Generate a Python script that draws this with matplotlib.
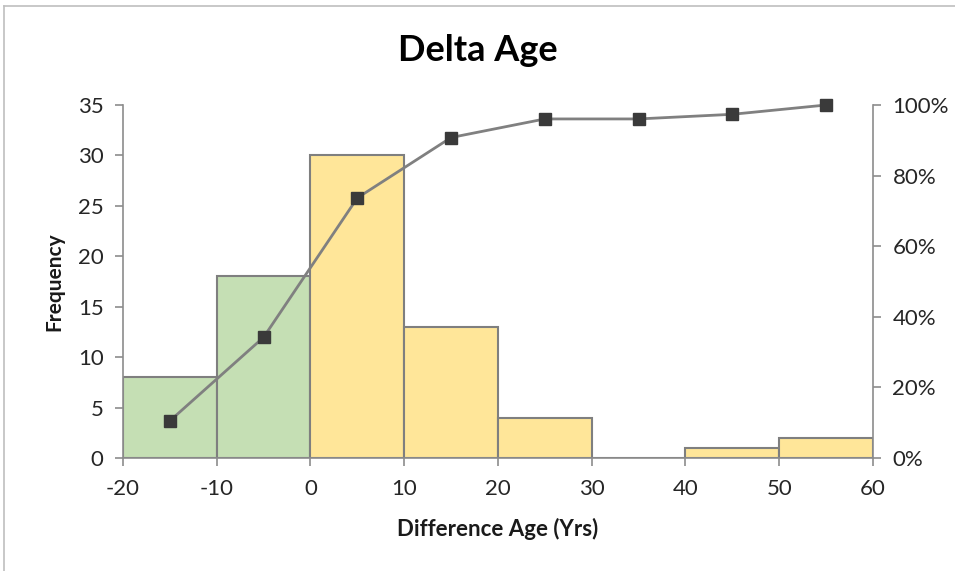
import matplotlib
matplotlib.use("Agg")
import matplotlib.pyplot as plt
from matplotlib.lines import Line2D
from matplotlib.ticker import PercentFormatter
import numpy as np

# Histogram of age differences (10-year bins) with cumulative share
bin_edges = [-20, -10, 0, 10, 20, 30, 40, 50, 60]
frequency = [8, 18, 30, 13, 4, 0, 1, 2]
bar_colors = ["#C5DFB4", "#C5DFB4", "#FFE699", "#FFE699", "#FFE699",
              "#FFE699", "#FFE699", "#FFE699"]
x_ticks = [-20, -10, 0, 10, 20, 30, 40, 50, 60]
y_ticks = [0, 5, 10, 15, 20, 25, 30, 35]
pct_ticks = [0, 20, 40, 60, 80, 100]

plt.rcParams["font.family"] = ["Lato", "DejaVu Sans"]
plt.rcParams["axes.unicode_minus"] = False

freq = np.array(frequency)
cum_pct = np.cumsum(freq) / freq.sum() * 100
left = np.array(bin_edges[:-1])
width = np.diff(bin_edges)
mids = left + width / 2

fig = plt.figure(figsize=(9.55, 5.71), dpi=100)
ax = fig.add_axes([0.1288, 0.1979, 0.7853, 0.6182])

ax.bar(left, freq, width=width, align="edge", color=bar_colors,
       edgecolor="#7F7F7F", linewidth=1.5, zorder=2)
ax.set_xlim(bin_edges[0], bin_edges[-1])
ax.set_ylim(0, 35)
ax.set_xticks(x_ticks)
ax.set_yticks(y_ticks)

ax2 = ax.twinx()
ax2.plot(mids, cum_pct, color="#808080", linewidth=2, marker="s",
         markersize=8, markerfacecolor="#3A3A3A", markeredgecolor="#3A3A3A",
         zorder=3, clip_on=False)
ax2.set_ylim(0, 100)
ax2.set_yticks(pct_ticks)
ax2.yaxis.set_major_formatter(PercentFormatter(decimals=0))

for a in (ax, ax2):
    for s in a.spines.values():
        s.set_color("#8C8C8C")
        s.set_linewidth(1.2)
    a.spines["top"].set_visible(False)
    a.tick_params(colors="#8C8C8C", labelcolor="#262626", labelsize=16,
                  length=6, width=1.2, direction="out")
ax.spines["right"].set_visible(False)
ax2.spines["left"].set_visible(False)
ax2.spines["bottom"].set_visible(False)
ax.tick_params(axis="y", pad=8)
ax.tick_params(axis="x", pad=9)
ax2.tick_params(axis="y", pad=8)

ax.set_xlabel("Difference Age (Yrs)", fontsize=16, fontweight="bold",
              color="#1A1A1A", labelpad=14)
ax.set_ylabel("Frequency", fontsize=15, fontweight="bold",
              color="#1A1A1A", labelpad=10)
fig.text(0.5, 0.912, "Delta Age", ha="center", va="center",
         fontsize=26, fontweight="bold", color="#000000")

# Thin frame around the chart area
fig.add_artist(Line2D([0.004, 0.004], [0.0, 0.99], transform=fig.transFigure,
                      color="#BFBFBF", linewidth=1.2))
fig.add_artist(Line2D([0.004, 1.0], [0.99, 0.99], transform=fig.transFigure,
                      color="#BFBFBF", linewidth=1.2))

fig.savefig("out.png", dpi=100)
